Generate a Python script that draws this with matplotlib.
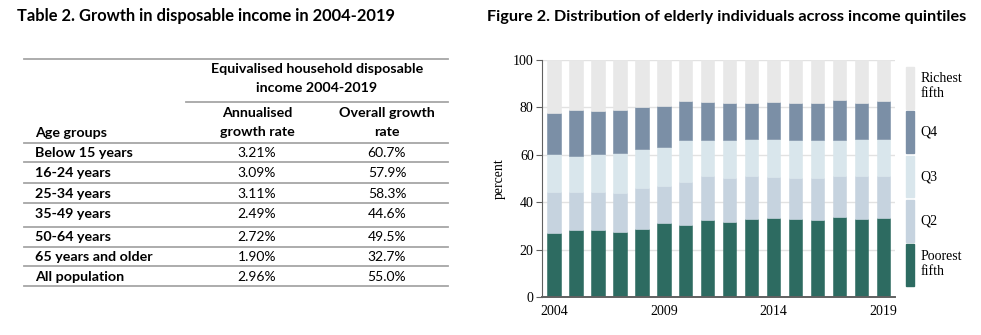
import matplotlib.pyplot as plt
from matplotlib.lines import Line2D
from matplotlib.patches import Patch

# ---------------------------------------------------
# data
# ---------------------------------------------------
age_groups = ["Below 15 years", "16-24 years", "25-34 years", "35-49 years",
              "50-64 years", "65 years and older", "All population"]
annualised = ["3.21%", "3.09%", "3.11%", "2.49%", "2.72%", "1.90%", "2.96%"]
overall = ["60.7%", "57.9%", "58.3%", "44.6%", "49.5%", "32.7%", "55.0%"]

years = [2004, 2005, 2006, 2007, 2008, 2009, 2010, 2011,
         2012, 2013, 2014, 2015, 2016, 2017, 2018, 2019]
poorest = [27.0, 28.2, 28.2, 27.3, 28.7, 31.4, 30.4, 32.5,
           31.8, 33.1, 33.4, 32.8, 32.7, 33.7, 33.1, 33.5]
q2 = [17.4, 16.2, 16.2, 16.5, 17.3, 15.6, 18.1, 18.5,
      18.3, 18.0, 17.3, 17.5, 17.7, 17.4, 18.0, 17.5]
q3 = [15.8, 15.0, 15.8, 16.9, 16.6, 16.5, 17.7, 15.2,
      16.0, 15.7, 16.1, 15.8, 16.0, 15.3, 15.7, 15.8]
q4 = [17.4, 19.6, 18.1, 18.3, 17.4, 17.1, 16.6, 16.1,
      15.6, 15.2, 15.5, 15.6, 15.3, 16.7, 14.9, 15.7]
richest = [22.4, 21.0, 21.7, 21.0, 20.0, 19.4, 17.2, 17.7,
           18.3, 18.0, 17.7, 18.3, 18.3, 16.9, 18.3, 17.5]

series = [("Poorest\nfifth", poorest, "#2d6b61"),
          ("Q2", q2, "#c6d3df"),
          ("Q3", q3, "#d9e6ec"),
          ("Q4", q4, "#7b8fa6"),
          ("Richest\nfifth", richest, "#e8e8e8")]

W, H = 981, 335
SANS = ["Lato", "DejaVu Sans"]
SERIF = ["Liberation Serif", "DejaVu Serif"]

fig = plt.figure(figsize=(W / 100, H / 100), dpi=100)


def fx(px):
    return px / W


def fy(py):
    return 1 - py / H


# ---------------------------------------------------
# table (left)
# ---------------------------------------------------
fig.text(fx(17), fy(16), "Table 2. Growth in disposable income in 2004-2019",
         family=SANS, weight="bold", fontsize=11.9, va="center", ha="left")

line_kw = dict(color="#a6a6a6", lw=1.3, transform=fig.transFigure)
fig.add_artist(Line2D([fx(24), fx(448)], [fy(59), fy(59)], **line_kw))
fig.add_artist(Line2D([fx(186), fx(448)], [fy(101.5), fy(101.5)], **line_kw))
fig.add_artist(Line2D([fx(24), fx(448)], [fy(142.5), fy(142.5)], **line_kw))

HB = 10.3  # bold header / first column size
HR = 10.0  # regular numbers
head = [(317, 69, "Equivalised household disposable"),
        (317, 88, "income 2004-2019"),
        (257, 113, "Annualised"),
        (257, 132, "growth rate"),
        (387, 113, "Overall growth"),
        (387, 132, "rate")]
for x, y, t in head:
    fig.text(fx(x), fy(y), t, family=SANS, weight="bold", fontsize=HB,
             ha="center", va="center")
fig.text(fx(35), fy(133), "Age groups", family=SANS,
         weight="bold", fontsize=HB, ha="left", va="center")

row_y = [152.7, 172.7, 193.5, 214, 237.3, 256.7, 276.7]
row_line = [162.3, 183.3, 203.3, 227.3, 246.7, 266, 285.7]
for i in range(len(age_groups)):
    fig.text(fx(35), fy(row_y[i]), age_groups[i], family=SANS, weight="bold",
             fontsize=HB, ha="left", va="center")
    fig.text(fx(257), fy(row_y[i]), annualised[i], family=SANS,
             fontsize=HR, ha="center", va="center")
    fig.text(fx(387), fy(row_y[i]), overall[i], family=SANS,
             fontsize=HR, ha="center", va="center")
    fig.add_artist(Line2D([fx(24), fx(448)], [fy(row_line[i]), fy(row_line[i])], **line_kw))

# ---------------------------------------------------
# stacked bars (right)
# ---------------------------------------------------
fig.text(fx(487), fy(17), "Figure 2. Distribution of elderly individuals across income quintiles",
         family=SANS, weight="bold", fontsize=11.7, va="center", ha="left")

ax = fig.add_axes([fx(542), fy(297), (895 - 542) / W, (297 - 60) / H])
bottom = [0.0] * len(years)
handles = []
for name, vals, col in series:
    ax.bar(years, vals, bottom=bottom, width=0.6, color=col,
           edgecolor=col, linewidth=0.4, zorder=2)
    bottom = [b + v for b, v in zip(bottom, vals)]
    handles.append(Patch(facecolor=col, edgecolor=col, label=name))

ax.set_xlim(2003.45, 2019.52)
ax.set_ylim(0, 100)
ax.set_yticks([0, 20, 40, 60, 80, 100])
ax.set_xticks([2004, 2009, 2014, 2019])
ax.yaxis.grid(True, color="#e2e2e2", lw=1.0, zorder=0)
ax.set_axisbelow(True)
for s in ["top", "right"]:
    ax.spines[s].set_visible(False)
ax.spines["left"].set_color("#606060")
ax.spines["bottom"].set_color("#606060")
ax.spines["bottom"].set_linewidth(1.4)
ax.tick_params(axis="y", length=4, color="#606060", pad=2, labelsize=10)
ax.tick_params(axis="x", length=0, pad=6, labelsize=10)
for lab in ax.get_xticklabels() + ax.get_yticklabels():
    lab.set_family(SERIF)
ax.set_ylabel("percent", family=SERIF, fontsize=10, labelpad=5)

fig.legend(handles[::-1], [h.get_label() for h in handles[::-1]],
           loc="upper left", bbox_to_anchor=(fx(906), fy(67)),
           frameon=False, prop={"family": SERIF, "size": 10},
           handlelength=0.6, handleheight=4.24, labelspacing=0.19,
           handletextpad=0.43, borderaxespad=0, borderpad=0)

fig.savefig("out.png", dpi=100)
